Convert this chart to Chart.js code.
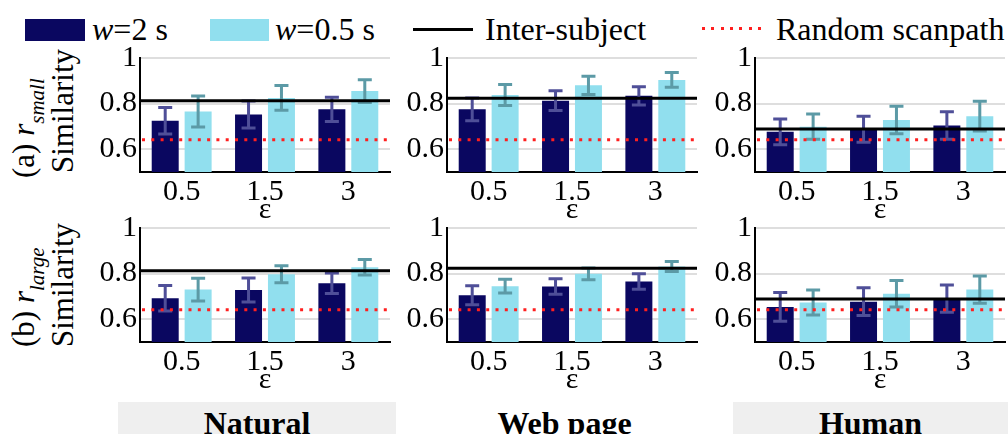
<!DOCTYPE html>
<html>
<head>
<meta charset="utf-8">
<script src="https://cdn.jsdelivr.net/npm/chart.js@4.4.0/dist/chart.umd.min.js"></script>
<style>
  body { margin: 0; width: 1008px; height: 434px; position: relative; overflow: hidden; background: #fff; color: #000; }
  .abs { position: absolute; white-space: nowrap; }
  .legend-text { font-size: 32px; line-height: 32px; top: 13px; }
  .row-label { font-size: 31px; line-height: 31px; transform-origin: 0 0; transform: rotate(-90deg); }
  .row-label sub { font-size: 21px; font-style: italic; position: relative; top: 10px; vertical-align: baseline; }
  .col-box { top: 402px; height: 32px; background: #efefef; }
  .col-label { top: 407px; font-size: 32px; line-height: 32px; font-weight: bold; text-align: center; }
  .panel { position: absolute; }
</style>
</head>
<body>

<div class="abs" style="left:25px;top:19px;width:60px;height:22px;background:#0a0760"></div>
<div class="abs legend-text" style="left:92px"><i>w</i>=2 s</div>
<div class="abs" style="left:210px;top:19px;width:59px;height:22px;background:#91dfee"></div>
<div class="abs legend-text" style="left:275px"><i>w</i>=0.5 s</div>
<div class="abs" style="left:413px;top:28px;width:60px;height:3px;background:#000"></div>
<div class="abs legend-text" style="left:485px">Inter-subject</div>
<div class="abs" style="left:702px;top:27px;width:62px;height:3px;background:repeating-linear-gradient(to right,#ff1f1f 0 3px,transparent 3px 9.3px)"></div>
<div class="abs legend-text" style="left:776px">Random scanpath</div>

<div class="abs row-label" style="left:8px;top:178px">(a) <i>r</i><sub>small</sub></div>
<div class="abs row-label" style="left:47px;top:173px">Similarity</div>
<div class="abs row-label" style="left:8px;top:347px">(b) <i>r</i><sub>large</sub></div>
<div class="abs row-label" style="left:47px;top:347px">Similarity</div>

<div class="abs col-box" style="left:118px;width:278px"></div>
<div class="abs col-box" style="left:733px;width:275px"></div>
<div class="abs col-label" style="left:118px;width:278px">Natural</div>
<div class="abs col-label" style="left:396px;width:337px">Web page</div>
<div class="abs col-label" style="left:733px;width:275px">Human</div>

<div id="panels"></div>

<script>
const epsilons = ['0.5', '1.5', '3'];
const yTickValues = [0.6, 0.8, 1];

// per column: Natural, Web page, Human
const smallW2 = [[0.725, 0.752, 0.775], [0.775, 0.813, 0.834], [0.676, 0.688, 0.704]];
const smallW2Err = [[0.058, 0.059, 0.053], [0.050, 0.043, 0.040], [0.057, 0.057, 0.060]];
const smallW05 = [[0.765, 0.825, 0.855], [0.838, 0.880, 0.904], [0.699, 0.728, 0.745]];
const smallW05Err = [[0.068, 0.054, 0.050], [0.046, 0.040, 0.032], [0.055, 0.060, 0.065]];

const largeW2 = [[0.692, 0.728, 0.758], [0.705, 0.743, 0.765], [0.654, 0.677, 0.690]];
const largeW2Err = [[0.056, 0.053, 0.045], [0.042, 0.034, 0.034], [0.063, 0.061, 0.060]];
const largeW05 = [[0.730, 0.797, 0.828], [0.745, 0.799, 0.831], [0.673, 0.712, 0.730]];
const largeW05Err = [[0.050, 0.037, 0.034], [0.030, 0.026, 0.022], [0.055, 0.058, 0.060]];

const interSubject = [0.813, 0.823, 0.689];
const randomScanpath = [0.641, 0.641, 0.641];

const DARK = '#0a0760';
const LIGHT = '#91dfee';
const DARK_ERR = '#4f4f98';
const LIGHT_ERR = '#5c9aa6';
const FONT = 'Liberation Serif';

// set the serif face from script, on every text element
document.body.style.fontFamily = FONT;
document.querySelectorAll('.abs').forEach(el => { el.style.fontFamily = FONT; });
Chart.defaults.font.family = FONT;

const axisLeft = [140, 447, 755];
const rowTop = [37, 207];
const Y_AXIS_W = 60;
const X_AXIS_H = 56;
const PAD_TOP = 20;
const PLOT_W = 250;
const PLOT_H = 115;

// error bars + reference lines, drawn on top of the bars
const overlayPlugin = {
  id: 'overlay',
  afterDatasetsDraw(chart, args, opts) {
    const ctx = chart.ctx;
    const y = chart.scales.y;
    const area = chart.chartArea;

    chart.data.datasets.forEach((ds, i) => {
      const meta = chart.getDatasetMeta(i);
      ctx.save();
      ctx.strokeStyle = ds.errColor;
      ctx.lineWidth = 3;
      meta.data.forEach((bar, j) => {
        const top = y.getPixelForValue(ds.data[j] + ds.errors[j]);
        const bottom = y.getPixelForValue(ds.data[j] - ds.errors[j]);
        ctx.beginPath();
        ctx.moveTo(bar.x, top);
        ctx.lineTo(bar.x, bottom);
        ctx.moveTo(bar.x - 7, top);
        ctx.lineTo(bar.x + 7, top);
        ctx.moveTo(bar.x - 7, bottom);
        ctx.lineTo(bar.x + 7, bottom);
        ctx.stroke();
      });
      ctx.restore();
    });

    ctx.save();
    const yi = y.getPixelForValue(opts.inter);
    ctx.strokeStyle = '#000';
    ctx.lineWidth = 3;
    ctx.beginPath();
    ctx.moveTo(area.left, yi);
    ctx.lineTo(area.right, yi);
    ctx.stroke();

    const yr = y.getPixelForValue(opts.random);
    ctx.strokeStyle = '#ff1f1f';
    ctx.setLineDash([3, 6.3]);
    ctx.beginPath();
    ctx.moveTo(area.left + 2, yr);
    ctx.lineTo(area.right, yr);
    ctx.stroke();
    ctx.restore();
  }
};

function makePanel(row, col, w2, w2Err, w05, w05Err) {
  const wrap = document.createElement('div');
  wrap.className = 'panel';
  const width = Y_AXIS_W + PLOT_W + 3;
  const height = PAD_TOP + PLOT_H + X_AXIS_H;
  wrap.style.left = (axisLeft[col] - Y_AXIS_W) + 'px';
  wrap.style.top = rowTop[row] + 'px';
  const canvas = document.createElement('canvas');
  canvas.width = width;
  canvas.height = height;
  wrap.appendChild(canvas);
  document.getElementById('panels').appendChild(wrap);

  new Chart(canvas, {
    type: 'bar',
    data: {
      labels: epsilons,
      datasets: [
        { data: w2, errors: w2Err, errColor: DARK_ERR, backgroundColor: DARK },
        { data: w05, errors: w05Err, errColor: LIGHT_ERR, backgroundColor: LIGHT }
      ]
    },
    options: {
      responsive: false,
      animation: false,
      devicePixelRatio: 1,
      categoryPercentage: 0.79,
      barPercentage: 0.82,
      layout: { padding: { top: PAD_TOP, right: 3, bottom: 0, left: 0 } },
      plugins: {
        legend: { display: false },
        tooltip: { enabled: false },
        overlay: { inter: interSubject[col], random: randomScanpath[col] }
      },
      scales: {
        x: {
          grid: { display: false, drawTicks: false },
          border: { display: true, color: '#000', width: 2 },
          ticks: { color: '#000', padding: 2, maxRotation: 0, font: { family: FONT, size: 30 } },
          title: { display: true, text: 'ε', color: '#000', padding: 0, font: { family: FONT, size: 30 } },
          afterFit: (axis) => { axis.height = X_AXIS_H; }
        },
        y: {
          min: 0.5,
          max: 1,
          afterBuildTicks: (axis) => { axis.ticks = yTickValues.map(v => ({ value: v })); },
          grid: { color: '#dedede', lineWidth: 2, drawTicks: false },
          border: { display: true, color: '#000', width: 2 },
          ticks: {
            color: '#000',
            padding: 3,
            font: { family: FONT, size: 30 },
            callback: (v) => String(v)
          },
          afterFit: (axis) => { axis.width = Y_AXIS_W; }
        }
      }
    },
    plugins: [overlayPlugin]
  });
}

for (let c = 0; c < 3; c++) {
  makePanel(0, c, smallW2[c], smallW2Err[c], smallW05[c], smallW05Err[c]);
  makePanel(1, c, largeW2[c], largeW2Err[c], largeW05[c], largeW05Err[c]);
}
</script>
</body>
</html>
